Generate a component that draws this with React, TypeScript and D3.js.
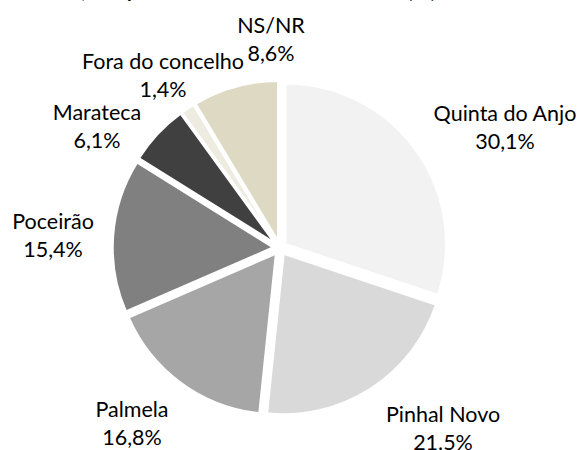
import * as d3 from "d3";
import React, { useEffect, useRef } from "react";

// freguesias, clockwise from 12 o'clock
const categories = ["Quinta do Anjo", "Pinhal Novo", "Palmela", "Poceirão", "Marateca", "Fora do concelho", "NS/NR"];
const values = [30.1, 21.5, 16.8, 15.4, 6.1, 1.4, 8.6];
const valueLabels = ["30,1%", "21.5%", "16,8%", "15,4%", "6,1%", "1,4%", "8,6%"];
const colors = ["#f2f2f2", "#d9d9d9", "#a6a6a6", "#808080", "#404040", "#eeece1", "#ddd9c3"];

// where the chart put each label block (centre x, first baseline)
const labelAt: Array<[number, number]> = [
    [505, 121], [443, 422], [132, 417], [53, 229], [97, 120], [163, 69], [271, 33]
];

const width = 582;
const height = 450;
const cx = 280;
const cy = 248;
const radius = 161;
const explode = 6.5;

const App: React.FC = () => {
    const wrapper = useRef<SVGSVGElement>(null);

    useEffect(() => {
        if (!wrapper.current) return;
        const svg = d3.select(wrapper.current);
        svg.selectAll("*").remove();
        svg.attr("width", width).attr("height", height).attr("viewBox", [0, 0, width, height]);

        // title, mostly cut off above the picture
        const title = svg.append("g")
            .style("font-family", "Lato, 'Open Sans', sans-serif")
            .style("font-weight", "bold")
            .style("font-size", "19px")
            .attr("fill", "#000");
        title.append("text").attr("x", 86).attr("y", -2).attr("text-anchor", "end").text("Residentes,");
        title.append("text").attr("x", 127).attr("y", -2)
            .attr("textLength", 309).attr("lengthAdjust", "spacing")
            .text("por local de residência atual (%)");

        const pie = d3.pie<number>().sort(null).value((d) => d);
        const arcs = pie(values);
        const arc = d3.arc<d3.PieArcDatum<number>>().innerRadius(0).outerRadius(radius);

        const g = svg.append("g").attr("transform", `translate(${cx},${cy})`);
        g.selectAll("path")
            .data(arcs)
            .join("path")
            .attr("transform", (d) => {
                const a = (d.startAngle + d.endAngle) / 2;
                return `translate(${Math.sin(a) * explode},${-Math.cos(a) * explode})`;
            })
            .attr("d", arc)
            .attr("fill", (_, i) => colors[i])
            .attr("stroke", "#fff")
            .attr("stroke-width", 2.5);

        const labels = svg.append("g")
            .style("font-family", "Lato, 'Open Sans', sans-serif")
            .style("font-size", "21.5px")
            .attr("fill", "#000")
            .attr("text-anchor", "middle");

        const lbl = labels.selectAll("text")
            .data(categories)
            .join("text")
            .attr("transform", (_, i) => `translate(${labelAt[i][0]},${labelAt[i][1]})`);
        lbl.append("tspan").attr("x", 0).attr("y", 0).text((d) => d);
        lbl.append("tspan").attr("x", 0).attr("y", 28).text((_, i) => valueLabels[i]);
    }, []);

    return <svg ref={wrapper} style={{ position: "absolute", top: 0, left: 0 }} />;
};

export default App;
